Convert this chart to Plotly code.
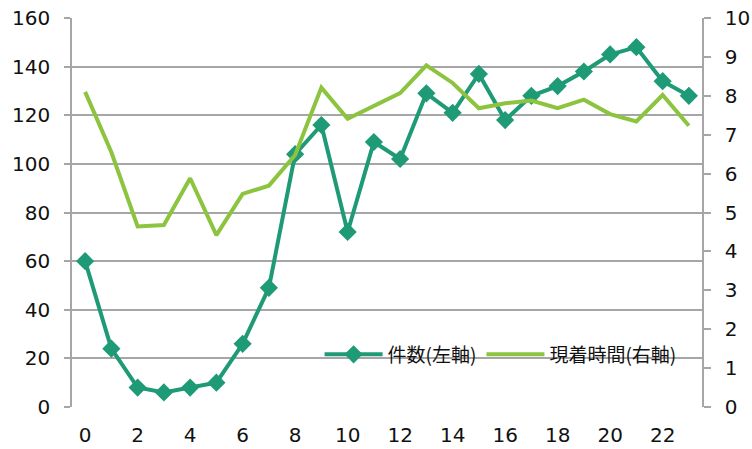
import plotly.graph_objects as go

hours = list(range(24))
counts = [60, 24, 8, 6, 8, 10, 26, 49, 104, 116, 72, 109, 102, 129, 121, 137, 118, 128, 132, 138, 145, 148, 134, 128]
arrival_time = [8.1, 6.55, 4.64, 4.68, 5.88, 4.42, 5.48, 5.69, 6.48, 8.21, 7.41, 7.75, 8.07, 8.78, 8.33, 7.68,
                7.81, 7.88, 7.68, 7.9, 7.53, 7.34, 8.02, 7.23]
x_tick_vals = list(range(0, 24, 2))
left_ticks = list(range(0, 161, 20))
right_ticks = list(range(0, 11))

dark = "#1f9a77"
lime = "#8cc43f"
grid = "#a6a6a6"
cjk = "Noto Sans CJK JP"
num = "DejaVu Sans"

fig = go.Figure()
fig.add_trace(go.Scatter(
    x=hours, y=counts, name="件数(左軸)", mode="lines+markers",
    line=dict(color=dark, width=4), marker=dict(symbol="diamond", size=14, color=dark),
    yaxis="y"))
fig.add_trace(go.Scatter(
    x=hours, y=arrival_time, name="現着時間(右軸)", mode="lines",
    line=dict(color=lime, width=4), yaxis="y2"))

fig.update_layout(
    width=752, height=449,
    margin=dict(l=72, r=50, t=18, b=42, autoexpand=False),
    paper_bgcolor="white", plot_bgcolor="white",
    font=dict(family=num, color="#111111", size=20),
    xaxis=dict(range=[-0.5, 23.5], tickvals=x_tick_vals, ticktext=[str(v) for v in x_tick_vals],
               showgrid=False, zeroline=False, showline=False, ticks="", automargin=False,
               tickfont=dict(size=20, family=num), ticklabelstandoff=14),
    yaxis=dict(range=[0, 160], tickvals=left_ticks, showgrid=True, gridcolor=grid, gridwidth=1.5,
               zeroline=False, showline=True, linecolor=grid, linewidth=1.5, automargin=False,
               ticks="outside", ticklen=6, tickcolor=grid, tickwidth=1.5,
               tickfont=dict(size=20, family=num), ticklabelstandoff=10),
    yaxis2=dict(range=[0, 10], tickvals=right_ticks, overlaying="y", side="right",
                showgrid=False, zeroline=False, showline=True, linecolor=grid, linewidth=1.5,
                automargin=False,
                ticks="outside", ticklen=7, tickcolor=grid, tickwidth=1.5,
                tickfont=dict(size=20, family=num), ticklabelstandoff=10),
    legend=dict(orientation="h", x=0.393, y=0.135, xanchor="left", yanchor="middle",
                bgcolor="rgba(0,0,0,0)", font=dict(size=19, family=cjk), itemwidth=58,
                tracegroupgap=0),
    showlegend=True,
)

fig.write_html("out.html", config={"displayModeBar": False},
               post_script="document.body.style.margin='0';")
